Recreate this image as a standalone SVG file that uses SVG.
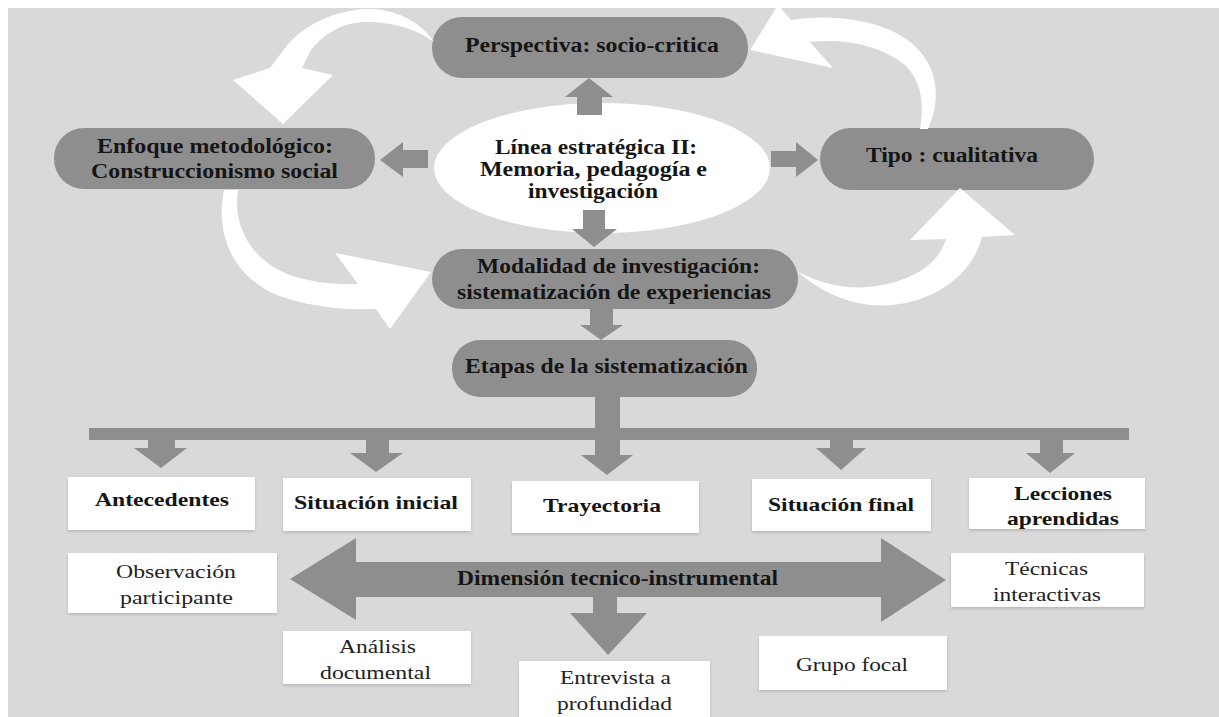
<svg xmlns="http://www.w3.org/2000/svg" width="1219" height="717" viewBox="0 0 1219 717">
<defs>
<style>
.bg{fill:#d9d9d9}
.pill{fill:#8e8e8e}
.box{fill:#ffffff;filter:url(#sh)}
.ell{fill:#ffffff}
.arr{fill:#8e8e8e}
.warr{fill:#ffffff}
.tb{font-family:"Liberation Serif","Times New Roman",serif;font-weight:bold;font-size:20px;fill:#151515}
.tbs{font-family:"Liberation Serif","Times New Roman",serif;font-weight:bold;font-size:19px;fill:#151515}
.tr{font-family:"Liberation Serif","Times New Roman",serif;font-size:19px;fill:#222222}
</style>
<filter id="sh" x="-5%" y="-20%" width="110%" height="140%">
<feDropShadow dx="0" dy="1.5" stdDeviation="1.5" flood-color="#9a9a9a" flood-opacity="0.6"/>
</filter>
</defs>
<rect x="0" y="0" width="1219" height="717" fill="#ffffff"/>
<rect class="bg" x="8" y="8" width="1211" height="709"/>

<g id="node-perspectiva">
<rect class="pill" x="432" y="17" width="316" height="61" rx="30"/>
<text class="tb" x="465" y="52" textLength="254" lengthAdjust="spacingAndGlyphs">Perspectiva: socio-critica</text>
</g>
<g id="node-enfoque">
<rect class="pill" x="54" y="128" width="321" height="61" rx="30"/>
<text class="tb" x="97" y="153" textLength="236" lengthAdjust="spacingAndGlyphs">Enfoque metodológico:</text>
<text class="tb" x="91" y="178" textLength="247" lengthAdjust="spacingAndGlyphs">Construccionismo social</text>
</g>
<g id="node-linea">
<ellipse class="ell" cx="602" cy="168" rx="168" ry="65"/>
<text class="tb" x="495" y="154" textLength="202" lengthAdjust="spacingAndGlyphs">Línea estratégica II:</text>
<text class="tb" x="480" y="176" textLength="227" lengthAdjust="spacingAndGlyphs">Memoria, pedagogía e</text>
<text class="tb" x="528" y="198" textLength="130" lengthAdjust="spacingAndGlyphs">investigación</text>
</g>
<g id="node-tipo">
<rect class="pill" x="820" y="128" width="274" height="62" rx="31"/>
<text class="tb" x="866" y="162" textLength="172" lengthAdjust="spacingAndGlyphs">Tipo : cualitativa</text>
</g>
<g id="node-modalidad">
<rect class="pill" x="432" y="249" width="366" height="60" rx="30"/>
<text class="tb" x="477" y="273" textLength="283" lengthAdjust="spacingAndGlyphs">Modalidad de investigación:</text>
<text class="tb" x="457" y="299" textLength="314" lengthAdjust="spacingAndGlyphs">sistematización de experiencias</text>
</g>
<g id="node-etapas">
<rect class="pill" x="452" y="340" width="305" height="57" rx="28"/>
<text class="tb" x="465" y="373" textLength="283" lengthAdjust="spacingAndGlyphs">Etapas de la sistematización</text>
</g>
<g id="node-antecedentes">
<rect class="box" x="68" y="477" width="187" height="53"/>
<text class="tbs" x="95" y="506" textLength="134" lengthAdjust="spacingAndGlyphs">Antecedentes</text>
</g>
<g id="node-situacion-inicial">
<rect class="box" x="283" y="478" width="188" height="53"/>
<text class="tbs" x="294" y="509" textLength="164" lengthAdjust="spacingAndGlyphs">Situación inicial</text>
</g>
<g id="node-trayectoria">
<rect class="box" x="512" y="481" width="187" height="52"/>
<text class="tbs" x="543" y="512" textLength="118" lengthAdjust="spacingAndGlyphs">Trayectoria</text>
</g>
<g id="node-situacion-final">
<rect class="box" x="752" y="479" width="179" height="52"/>
<text class="tbs" x="768" y="511" textLength="146" lengthAdjust="spacingAndGlyphs">Situación final</text>
</g>
<g id="node-lecciones">
<rect class="box" x="969" y="478" width="176" height="51"/>
<text class="tbs" x="1014" y="500" textLength="98" lengthAdjust="spacingAndGlyphs">Lecciones</text>
<text class="tbs" x="1007" y="525" textLength="112" lengthAdjust="spacingAndGlyphs">aprendidas</text>
</g>
<g id="node-observacion">
<rect class="box" x="68" y="553" width="209" height="60"/>
<text class="tr" x="116" y="578" textLength="120" lengthAdjust="spacingAndGlyphs">Observación</text>
<text class="tr" x="120" y="604" textLength="113" lengthAdjust="spacingAndGlyphs">participante</text>
</g>
<g id="node-tecnicas">
<rect class="box" x="951" y="553" width="193" height="54"/>
<text class="tr" x="1005" y="575" textLength="83" lengthAdjust="spacingAndGlyphs">Técnicas</text>
<text class="tr" x="993" y="601" textLength="108" lengthAdjust="spacingAndGlyphs">interactivas</text>
</g>
<g id="node-analisis">
<rect class="box" x="283" y="631" width="188" height="53"/>
<text class="tr" x="339" y="653" textLength="77" lengthAdjust="spacingAndGlyphs">Análisis</text>
<text class="tr" x="320" y="679" textLength="111" lengthAdjust="spacingAndGlyphs">documental</text>
</g>
<g id="node-entrevista">
<rect class="box" x="519" y="661" width="191" height="60"/>
<text class="tr" x="560" y="684" textLength="111" lengthAdjust="spacingAndGlyphs">Entrevista a</text>
<text class="tr" x="557" y="710" textLength="115" lengthAdjust="spacingAndGlyphs">profundidad</text>
</g>
<g id="node-grupo-focal">
<rect class="box" x="759" y="636" width="188" height="54"/>
<text class="tr" x="796" y="671" textLength="112" lengthAdjust="spacingAndGlyphs">Grupo focal</text>
</g>

<g id="connectors">
<!-- white cycle arrows -->
<path class="warr" d="M 434 42 C 418 18 390 8 365 9 C 330 11 300 28 285 48 L 270 68 L 233 80 L 283 124 L 333 75 L 302 68 L 311 50 C 325 32 345 22 367 22 C 395 22 418 30 434 42 Z"/>
<path class="warr" d="M 224 190 C 215 235 232 287 300 302 C 330 309 355 310 376 309 L 390 329 L 431 272 L 335 253 L 358 284 C 335 285 310 282 290 275 C 255 262 232 230 238 190 Z"/>
<path class="warr" d="M 798 272 C 830 300 870 312 910 302 C 950 292 975 265 982 237 L 1015 235 L 960 188 L 910 240 L 946 239 C 940 260 920 275 895 282 C 860 292 830 288 798 272 Z"/>
<path class="warr" d="M 928 129 C 945 90 935 50 890 30 C 860 17 820 15 791 20 L 778 5 L 750 50 L 833 68 L 810 42 C 845 38 880 45 905 65 C 920 80 925 100 920 129 Z"/>
<!-- gray block arrows from central node -->
<polygon class="arr" points="577,115 577,97 565,97 589,78 613,97 602,97 602,115"/>
<polygon class="arr" points="583,210 605,210 605,229 617,229 594,247 572,229 583,229"/>
<polygon class="arr" points="428,150 403,150 403,142 380,160 403,177 403,168 428,168"/>
<polygon class="arr" points="771,151 796,151 796,142 818,160 796,177 796,167 771,167"/>
<!-- Modalidad to Etapas -->
<polygon class="arr" points="590,309 613,309 613,325 623,325 601,340 580,325 590,325"/>
<!-- Etapas trunk and bar -->
<polygon class="arr" points="595,397 620,397 620,455 633,455 607,475 581,455 595,455"/>
<rect class="arr" x="89" y="428" width="1040" height="12"/>
<polygon class="arr" points="148,440 175,440 175,448 187,448 161,468 134,448 148,448"/>
<polygon class="arr" points="366,440 389,440 389,453 403,453 376,472 350,453 366,453"/>
<polygon class="arr" points="830,440 853,440 853,448 866,448 841,470 816,448 830,448"/>
<polygon class="arr" points="1040,440 1063,440 1063,453 1075,453 1050,473 1026,453 1040,453"/>
<!-- Dimension double arrow -->
<polygon class="arr" points="290,579 356,538 356,562 881,562 881,538 946,580 881,622 881,597 593,597 593,613 570,613 608,655 647,613 617,613 617,597 356,597 356,620"/>
<text class="tb" x="457" y="585" textLength="321" lengthAdjust="spacingAndGlyphs">Dimensión tecnico-instrumental</text>
</g>
</svg>
